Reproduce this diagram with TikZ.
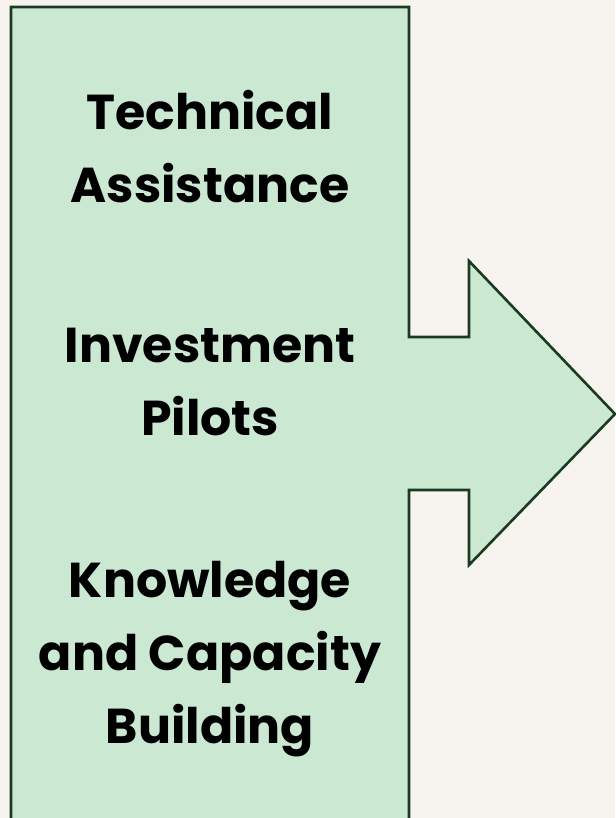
\documentclass[tikz,border=0pt]{standalone}
\usepackage{fontspec}
\usepackage{tikz}
\usetikzlibrary{positioning}
\newfontfamily\blockfont{Poppins}[UprightFont=* Bold]
\definecolor{paper}{HTML}{F7F3EE}
\definecolor{leaf}{HTML}{CBE8D3}
\definecolor{pine}{HTML}{1B3A22}

\begin{document}
\begin{tikzpicture}[
            x=1pt,y=-1pt,
            outline/.style={draw=pine,fill=leaf,line width=2.6pt,line join=miter},
            block/.style={align=center,anchor=base,inner sep=0pt,
              font=\blockfont\fontsize{49}{73}\selectfont}
          ]
          %page
          \fill[paper] (0,0) rectangle (615,818);
          \useasboundingbox (0,0) rectangle (615,818);

          %panel with arrow
          \path[outline] (11,7) -- (409,7) -- (409,337) -- (469,337) -- (469,261)
            -- (615,414) -- (469,565) -- (469,490) -- (409,490) -- (409,830)
            -- (11,830) -- cycle;

          %labels (anchored at the last line)
          \node[block] (ta) at (210,203) {Technical\\Assistance};
          \node[block] (ip) at (210,435) {Investment\\Pilots};
          \node[block] (kc) at (210,743) {Knowledge\\and Capacity\\Building};

      \end{tikzpicture}
\end{document}
